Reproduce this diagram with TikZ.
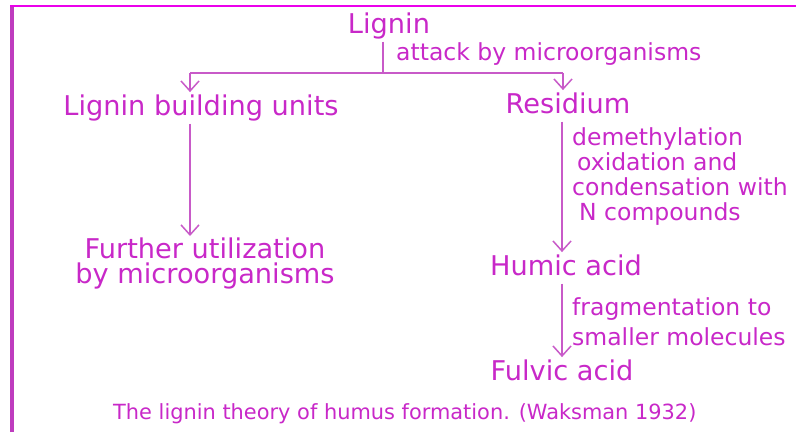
\documentclass[tikz,border=0pt]{standalone}
\usepackage{fontspec}
\setmainfont{DejaVu Sans}
\usetikzlibrary{positioning}
\usetikzlibrary{arrows.meta}

\begin{document}
\begin{tikzpicture}[x=1pt,y=-1pt,
		stage/.style={inner sep=2pt,text=lilac,font=\fontsize{27.2}{23}\selectfont,text height=20.7pt,text depth=6.4pt},
		stagetwo/.style={inner sep=2pt,text=lilac,font=\fontsize{27.2}{25}\selectfont,align=center},
		note/.style={inner sep=2pt,text=lilac,font=\fontsize{23.5}{25}\selectfont,align=left},
		link/.style={line width=2.2pt,color=wire},
		flow/.style={link,-{Straight Barb[length=10pt,width=18pt,line width=1.5pt]}}]
				\definecolor{lilac}{RGB}{200,40,200}
				\definecolor{wire}{RGB}{200,90,200}
				\definecolor{frametop}{RGB}{235,0,235}
				\definecolor{frameside}{RGB}{190,60,190}
				\useasboundingbox (0,0) rectangle (796,432);
				
				% frame
				\draw[line width=4pt,color=frameside] (12,432) -- (12,6);
				\draw[line width=2.5pt,color=frametop] (10,6) -- (796,6);
				
				% stages
				\node[stage,anchor=base] (lignin) at (389,33) {Lignin};
				\node[note,anchor=base west] (attack) at (394,60) {attack by microorganisms};
				\node[stage,anchor=base] (lbu) at (201,115) {Lignin building units};
				\node[stage,anchor=base] (resid) at (568,113) {Residium};
				\node[stagetwo,anchor=north] (further) at (205,236) {Further utilization\\by microorganisms};
				\node[note,anchor=north west] (demeth) at (570,125) {demethylation\\\hspace*{5pt}oxidation and\\condensation with\\\hspace*{7pt}N compounds};
				\node[stage,anchor=base] (humic) at (566,275) {Humic acid};
				\node[note,anchor=north west,font=\fontsize{23.5}{30}\selectfont] (frag) at (570,295) {fragmentation to\\smaller molecules};
				\node[stage,anchor=base] (fulvic) at (562,380) {Fulvic acid};
				
				\node[inner sep=2pt,text=lilac,font=\fontsize{20.9}{25}\selectfont,anchor=base west] (caption) at (111,419) {The lignin theory of humus formation. (Waksman 1932)};
				
				% connectors
				\coordinate (split) at (383,73);
				\coordinate (forkL) at (190,73);
				\coordinate (forkR) at (563,73);
				\coordinate (colR) at (562,0);
				\draw[link] (lignin.south -| split) -- (split);
				\draw[link] (forkL) -- (forkR);
				\draw[flow] (forkL) -- (lbu.north -| forkL);
				\draw[flow] (forkR) -- (resid.north -| forkR);
				\draw[flow] (lbu.south -| forkL) -- (further.north -| forkL);
				\draw[flow] (resid.south -| colR) -- (humic.north -| colR);
				\draw[flow] (humic.south -| colR) -- (fulvic.north -| colR);
\end{tikzpicture}
\end{document}
